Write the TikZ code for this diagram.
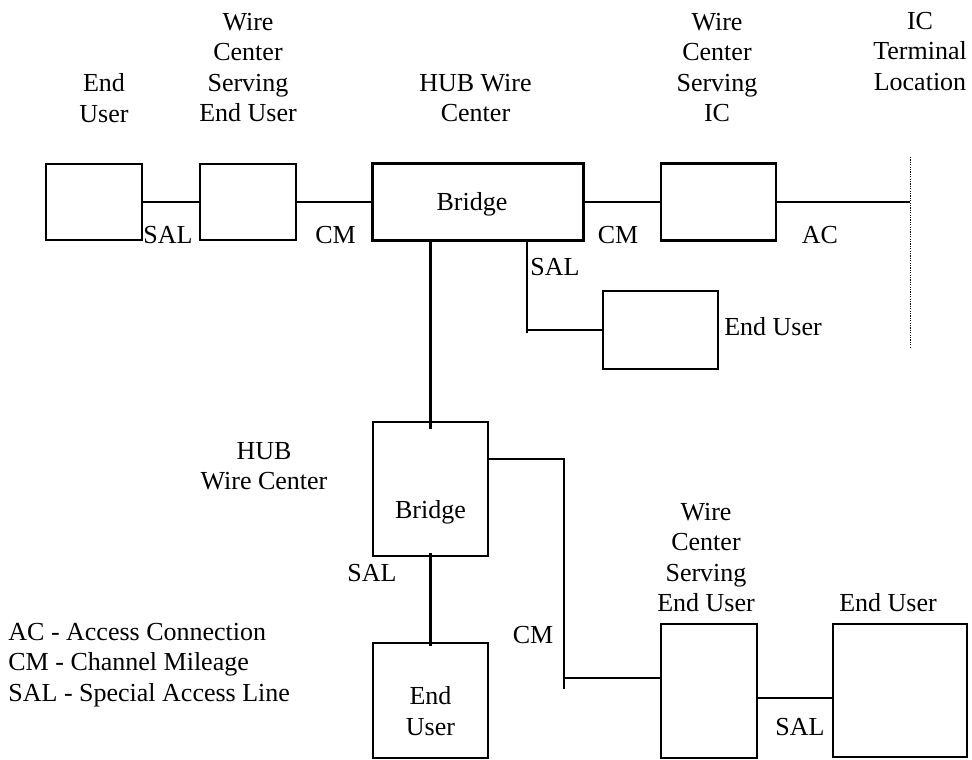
\documentclass[tikz,border=0pt]{standalone}
\usepackage{fontspec}
\setmainfont{Liberation Serif}
\usetikzlibrary{positioning, calc}

\begin{document}
\begin{tikzpicture}[
  x=0.5pt, y=-0.5pt,
  font=\fontsize{13}{15.25}\selectfont,
  box/.style={draw, line width=1.3pt, inner sep=0pt},
  wire/.style={line width=1.3pt},
  lbl/.style={align=center, inner sep=0pt},
  tag/.style={inner sep=0pt},
  dots/.style={line width=0.5pt, dash pattern=on 0.6pt off 0.6pt}
]
\useasboundingbox (0,0) rectangle (972,759);

% top row
\node[box, minimum width=48pt, minimum height=38pt] (eu1) at (94,202) {};
\node[box, minimum width=48pt, minimum height=38pt] (wc1) at (248,202) {};
\node[box, minimum width=105.5pt, minimum height=38.5pt] (hub) at (478,202) {};
\node[tag] (hubtxt) at (472,204) {Bridge};
\node[box, minimum width=57.5pt, minimum height=38.5pt] (wcic) at (718.5,202) {};
\node[box, minimum width=57.5pt, minimum height=39pt] (eu2) at (660.5,330) {};

% lower part
\node[box, minimum width=57.5pt, minimum height=67pt] (hub2) at (430.5,489) {};
\node[tag] (hub2txt) at (430.5,512) {Bridge};
\node[box, minimum width=57.5pt, minimum height=57.5pt] (eu3) at (430.5,700.5) {};
\node[lbl] (eu3txt) at (430.5,711) {End\\User};
\node[box, minimum width=48pt, minimum height=67pt] (wc3) at (709,691) {};
\node[box, minimum width=67pt, minimum height=66.5pt] (eu4) at (900,690.5) {};

% IC terminal
\coordinate (ictop) at (910,157);
\coordinate (icbot) at (910,348);
\coordinate (icjack) at (910,202);
\draw[dots] (ictop) -- (icbot);

% headings
\node[lbl] (hdEU1) at (104,98) {End\\User};
\node[lbl] (hdWC1) at (248,67.5) {Wire\\Center\\Serving\\End User};
\node[lbl] (hdHUB) at (475.5,98) {HUB Wire\\Center};
\node[lbl] (hdWCIC) at (717,67.5) {Wire\\Center\\Serving\\IC};
\node[lbl] (hdIC) at (920,51.5) {IC\\Terminal\\Location};
\node[tag] (hdEU2) at (773,327) {End User};
\node[lbl] (hdHUB2) at (264,466) {HUB\\Wire Center};
\node[lbl] (hdWC3) at (706,557.5) {Wire\\Center\\Serving\\End User};
\node[tag] (hdEU4) at (888,603) {End User};

% connectors
\draw[wire] (eu1) -- (wc1);
\draw[wire] (wc1) -- (hub);
\draw[wire] (hub) -- (wcic);
\draw[wire] (wcic) -- (icjack);

\coordinate (salknee) at (527,330);
\draw[wire] ($(hub.south -| salknee)+(0,-3)$) -- ($(salknee)+(0,3)$);
\draw[wire] (salknee) -- (eu2.west |- salknee);

\draw[wire] ($(hub.south -| hub2.north)+(0,-3)$) -- ($(hub2.north)+(0,8)$);
\draw[wire] ($(hub2.south)+(0,-4)$) -- ($(eu3.north)+(0,4)$);

\coordinate (cmtop) at (564,459);
\coordinate (cmknee) at (564,678);
\draw[wire] (hub2.east |- cmtop) -- (cmtop) -- ($(cmknee)+(0,11)$);
\draw[wire] (cmknee) -- (wc3.west |- cmknee);

\coordinate (salbot) at (795,698);
\draw[wire] (wc3.east |- salbot) -- (eu4.west |- salbot);

% line tags
\node[tag, anchor=west] (tSAL1) at (143,235) {SAL};
\node[tag] (tCM1) at (335.5,235) {CM};
\node[tag] (tCM2) at (618,235) {CM};
\node[tag] (tAC) at (820,235) {AC};
\node[tag] (tSAL2) at (555,267) {SAL};
\node[tag] (tSAL3) at (372,573) {SAL};
\node[tag] (tCM3) at (533,635) {CM};
\node[tag] (tSAL4) at (800,727) {SAL};

% legend
\node[lbl, align=left, anchor=west] (legend) at (8,665) {AC - Access Connection\\CM - Channel Mileage\\SAL - Special Access Line};

\end{tikzpicture}
\end{document}
